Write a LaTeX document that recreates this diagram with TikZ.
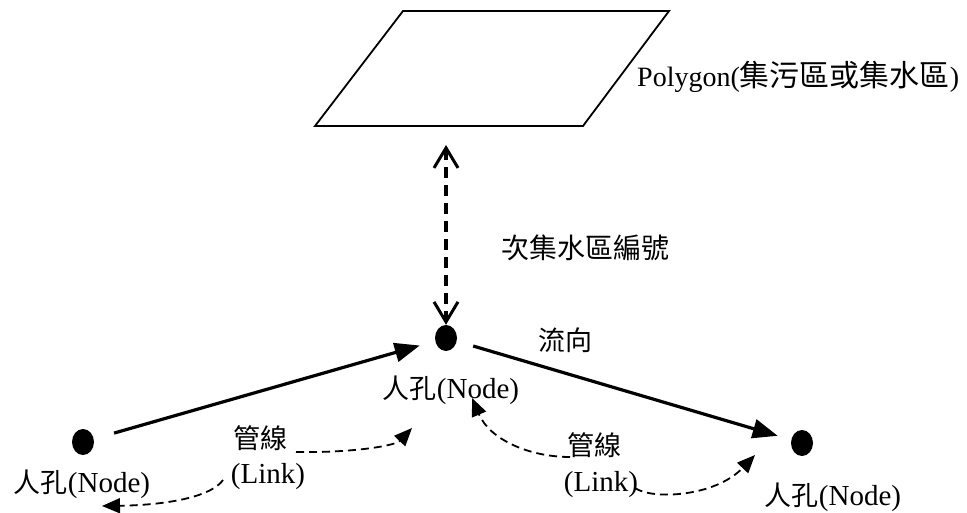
\documentclass[tikz,border=0pt]{standalone}
\usepackage{fontspec}
\setmainfont{Liberation Serif}
\newfontfamily\cjk{Noto Sans CJK TC}
\usetikzlibrary{arrows.meta,shapes.geometric}
\newcommand{\cw}[1]{{\fontsize{27}{30}\selectfont\cjk #1}}
\begin{document}
\begin{tikzpicture}[x=1pt,y=-1pt,
  dot/.style={ellipse,fill=black,minimum width=22pt,minimum height=26pt,inner sep=0pt},
  lbl/.style={inner sep=0pt,font=\fontsize{29}{30}\selectfont},
  flow/.style={line width=3.2pt,-{Triangle[length=25pt,width=19pt]}},
  linkarrow/.style={line width=1.8pt,dash pattern=on 8pt off 5pt,-{Triangle[length=18pt,width=15pt]}},
  assoc/.style={line width=3.5pt,dash pattern=on 11pt off 7pt,
    {Straight Barb[length=20pt,width=24pt,line width=3pt]}-{Straight Barb[length=20pt,width=24pt,line width=3pt]}},
  polyline/.style={line width=1.8pt,line join=miter}
]
\useasboundingbox[fill=white] (0,0) rectangle (967,513);

% polygon
\draw[polyline] (403,11) coordinate (p1) -- (669,11) coordinate (p2) -- (583,126) coordinate (p3) -- (315,126) coordinate (p4) -- cycle;
\node[lbl,anchor=west,font=\fontsize{28}{30}\selectfont] (polylbl) at (637,77)
  {Polygon({\fontsize{30}{30}\selectfont\cjk 集污區或集水區})};

% nodes
\node[dot] (n1) at (83,442) {};
\node[dot] (n2) at (446,338) {};
\node[dot] (n3) at (802,443) {};

\node[lbl] (lab1) at (82,484) {\cw{人孔}(Node)};
\node[lbl] (lab2) at (451,390) {\cw{人孔}(Node)};
\node[lbl] (lab3) at (833,497) {\cw{人孔}(Node)};

\node[lbl] (subid) at (585,248) {{\fontsize{28}{30}\selectfont\cjk 次集水區編號}};
\node[lbl] (flowlbl) at (565,340) {\cw{流向}};

\node[lbl] (link1a) at (260,438) {\cw{管線}};
\node[lbl] (link1b) at (268,477) {(Link)};
\node[lbl] (link2a) at (594,445) {\cw{管線}};
\node[lbl] (link2b) at (601,485) {(Link)};

% vertical association arrow
\coordinate (ptip) at (446,145);
\draw[assoc] (ptip) -- (n2.north);

% flow arrows
\draw[flow, shorten <=21pt, shorten >=16pt] (n1) -- (n2);
\draw[flow, shorten <=17pt, shorten >=14pt] (n2) -- (n3);

% link dashed curves
\coordinate (a1) at (296,452);
\coordinate (a2) at (412,428);
\coordinate (b1) at (223,480);
\coordinate (b2) at (102,506);
\coordinate (c1) at (570,457);
\coordinate (c2) at (472,398);
\coordinate (d1) at (635,488);
\coordinate (d2) at (755,455);
\draw[linkarrow] (a1) .. controls (350,453) and (395,446) .. (a2);
\draw[linkarrow] (b1) .. controls (212,496) and (170,505) .. (b2);
\draw[linkarrow] (c1) .. controls (530,457) and (490,440) .. (c2);
\draw[linkarrow] (d1) .. controls (652,500) and (715,497) .. (d2);
\end{tikzpicture}
\end{document}
